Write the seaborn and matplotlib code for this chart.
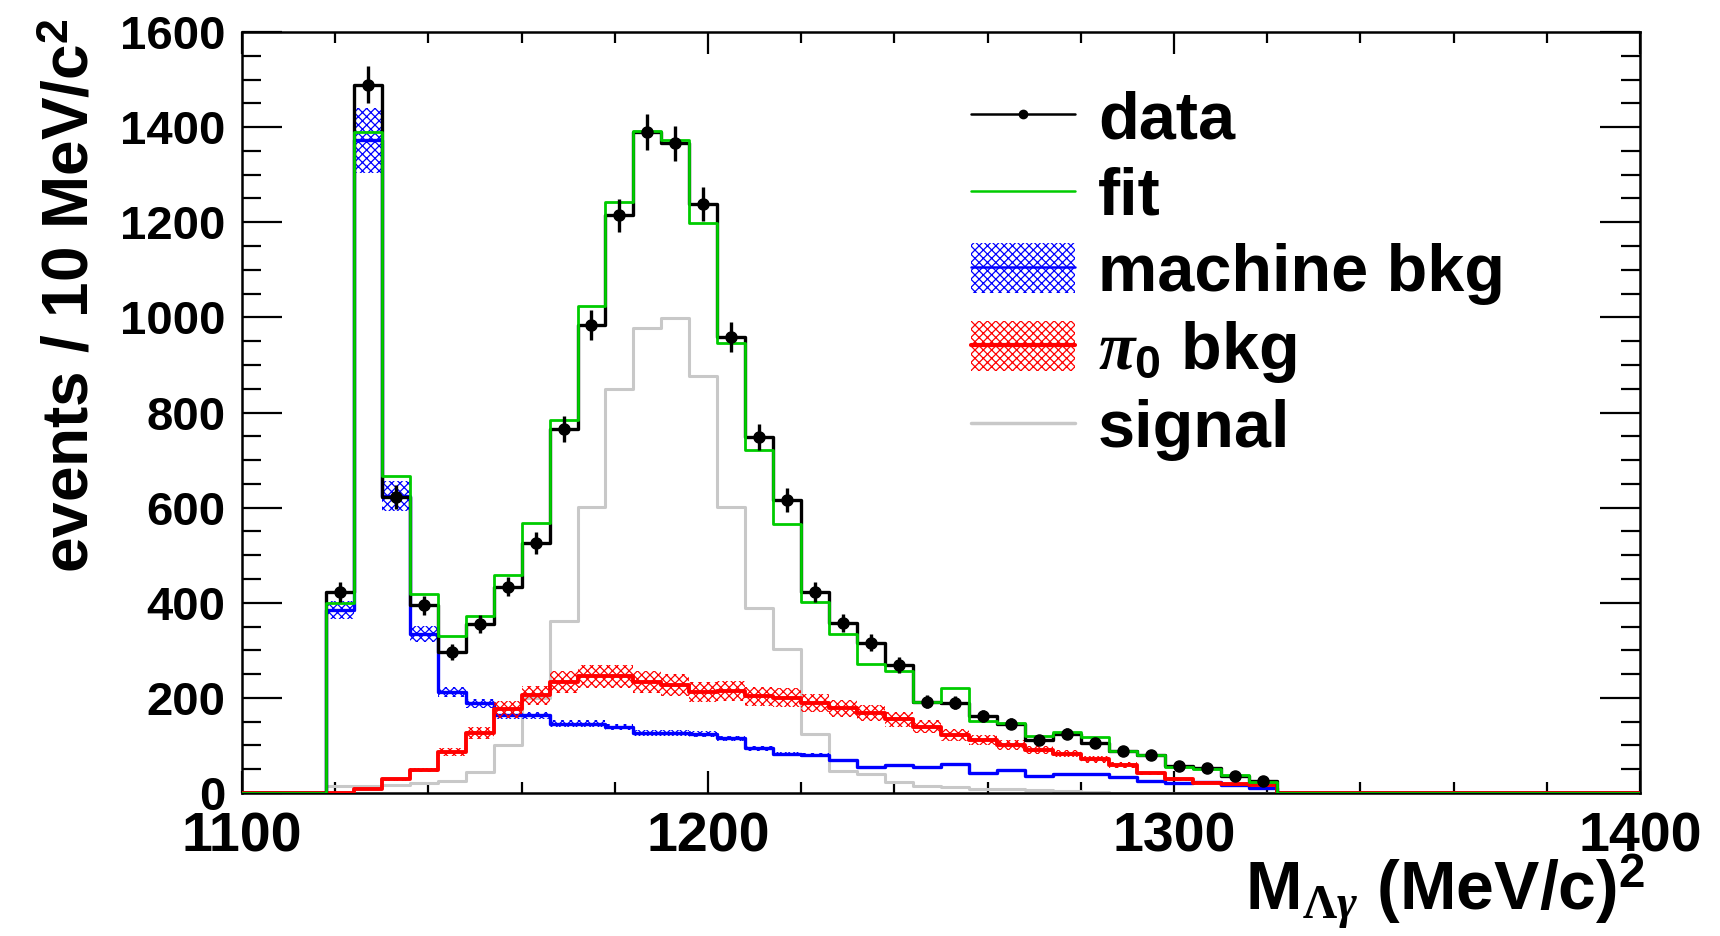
import numpy as np
import pandas as pd
import matplotlib
matplotlib.use("Agg")
import matplotlib.pyplot as plt
import seaborn as sns
from matplotlib.patches import Patch
from matplotlib.lines import Line2D
from matplotlib.ticker import MultipleLocator

# ---------------- data ----------------
bin_lo, bin_hi, bin_w = 1100, 1400, 6
first_filled_edge = 1118          # first non-empty bin starts here

data_counts = [423, 1489, 623, 395, 297, 356, 434, 526, 765, 984, 1215, 1390,
               1366, 1238, 959, 749, 616, 423, 357, 316, 269, 192, 190, 162,
               146, 111, 125, 106, 89, 80, 57, 52, 36, 26]
fit_counts = [400, 1390, 666, 418, 330, 372, 458, 568, 784, 1024, 1243, 1392,
              1373, 1198, 946, 721, 566, 402, 334, 271, 257, 192, 220, 152,
              148, 120, 129, 117, 89, 80, 55, 50, 38, 24]
machine_bkg = [385, 1372, 625, 335, 213, 189, 163, 163, 146, 146, 139, 127,
               127, 125, 115, 94, 83, 80, 69, 55, 59, 55, 61, 41,
               48, 36, 39, 39, 33, 26, 22, 24, 17, 10]
pi0_bkg = [1, 8, 29, 48, 86, 127, 176, 205, 234, 245, 245, 234,
           227, 213, 215, 203, 200, 189, 178, 168, 155, 139, 122, 111,
           101, 90, 83, 71, 59, 41, 29, 22, 19, 17]
signal = [14, 15, 17, 20, 26, 45, 100, 200, 362, 602, 849, 977,
          998, 876, 602, 388, 302, 125, 46, 40, 24, 14, 13, 9,
          8, 7, 4, 2, 1, 0, 0, 0, 0, 0]
machine_band_frac = 0.05
pi0_band_frac = 0.10

x_ticks = [1100, 1200, 1300, 1400]
y_ticks = [0, 200, 400, 600, 800, 1000, 1200, 1400, 1600]
legend_labels = ["data", "fit", "machine bkg", r"$\pi_{\mathbf{0}}$ bkg", "signal"]
x_title = r"M$_{\Lambda\gamma}$ (MeV/c)$^{\mathbf{2}}$"
y_title = r"events / 10 MeV/c$^{\mathbf{2}}$"

# ---------------- style ----------------
sns.set_theme(style="ticks")
plt.rcParams["font.family"] = ["Liberation Sans", "DejaVu Sans"]
plt.rcParams["font.weight"] = "bold"
plt.rcParams["text.color"] = "black"
plt.rcParams["axes.labelcolor"] = "black"
plt.rcParams["xtick.color"] = "black"
plt.rcParams["ytick.color"] = "black"
plt.rcParams["xtick.labelcolor"] = "black"
plt.rcParams["ytick.labelcolor"] = "black"
plt.rcParams["mathtext.fontset"] = "custom"
plt.rcParams["mathtext.rm"] = "Liberation Serif"
plt.rcParams["mathtext.it"] = "Liberation Serif:italic"
plt.rcParams["mathtext.bf"] = "Liberation Sans:bold"
plt.rcParams["mathtext.sf"] = "Liberation Sans:bold"
plt.rcParams["hatch.linewidth"] = 0.9

GREEN = "#00cc00"
BLUE = "#0000ff"
RED = "#ff0000"
GRAY = "#c8c8c8"

edges = np.arange(bin_lo, bin_hi + bin_w, bin_w)
centers = edges[:-1] + bin_w / 2
n_bins = len(centers)
i0 = (first_filled_edge - bin_lo) // bin_w


def full(values):
    arr = np.zeros(n_bins)
    arr[i0:i0 + len(values)] = values
    return arr


data_full = full(data_counts)
fit_full = full(fit_counts)
mach_full = full(machine_bkg)
pi0_full = full(pi0_bkg)
sig_full = full(signal)

fig = plt.figure(figsize=(17.2, 9.36), dpi=100)
ax = fig.add_axes([242 / 1720, 1 - 793 / 936, 1398 / 1720, 761 / 936])


def step_hist(values, color, lw, z):
    df = pd.DataFrame({"mass": edges, "count": np.append(values, values[-1])})
    sns.lineplot(data=df, x="mass", y="count", estimator=None, sort=False,
                 drawstyle="steps-post", color=color, linewidth=lw,
                 ax=ax, zorder=z)


def band(values, frac, color, z):
    lo = values * (1 - frac)
    hi = values * (1 + frac)
    ax.fill_between(edges, np.append(lo, lo[-1]), np.append(hi, hi[-1]),
                    step="post", facecolor="none", edgecolor=color,
                    hatch="xxxx", linewidth=0, zorder=z)


step_hist(sig_full, GRAY, 2.2, 2)
band(mach_full, machine_band_frac, BLUE, 3)
step_hist(mach_full, BLUE, 2.4, 3.5)
band(pi0_full, pi0_band_frac, RED, 4)
step_hist(pi0_full, RED, 2.8, 4.5)
step_hist(data_full, "black", 2.4, 5)
step_hist(fit_full, GREEN, 2.0, 5.5)

filled = data_full > 0
ax.errorbar(centers[filled], data_full[filled], yerr=np.sqrt(data_full[filled]),
            fmt="o", color="black", markersize=8, elinewidth=2.4, capsize=0,
            zorder=6)

ax.set_xlim(bin_lo, bin_hi)
ax.set_ylim(y_ticks[0], y_ticks[-1])
ax.set_xticks(x_ticks)
ax.set_yticks(y_ticks)
ax.xaxis.set_minor_locator(MultipleLocator(20))
ax.yaxis.set_minor_locator(MultipleLocator(50))
ax.tick_params(which="both", direction="in", top=True, right=True,
               width=1.6, colors="black")
ax.tick_params(axis="y", which="major", length=29, pad=12, labelsize=34)
ax.tick_params(axis="y", which="minor", length=14)
ax.tick_params(axis="x", which="major", length=16, pad=13, labelsize=40)
ax.tick_params(axis="x", which="minor", length=8)
for sp in ax.spines.values():
    sp.set_linewidth(1.8)
    sp.set_color("black")

ax.set_xlabel(x_title, fontsize=49, fontweight="bold", loc="right")
ax.xaxis.set_label_coords(1.004, -0.078)
ax.set_ylabel(y_title, fontsize=46, fontweight="bold", loc="top")
ax.yaxis.set_label_coords(-0.1004, 1.018)

handles = [
    Line2D([], [], color="black", lw=1.8, marker="o", markersize=6),
    Line2D([], [], color=GREEN, lw=1.8),
    (Patch(facecolor="none", edgecolor=BLUE, hatch="xxxx", linewidth=0),
     Line2D([], [], color=BLUE, lw=1.8)),
    (Patch(facecolor="none", edgecolor=RED, hatch="xxxx", linewidth=0),
     Line2D([], [], color=RED, lw=3)),
    Line2D([], [], color=GRAY, lw=2.5),
]
ax.legend(handles, legend_labels, loc="upper left",
          bbox_to_anchor=(938 / 1720, 1 - 57 / 936),
          bbox_transform=fig.transFigure, frameon=False,
          prop={"family": "Liberation Sans", "weight": "bold", "size": 48},
          handlelength=1.55, handleheight=0.78, handletextpad=0.35,
          labelspacing=0.21, borderpad=0)

fig.savefig("out.png", dpi=100, facecolor="white")
